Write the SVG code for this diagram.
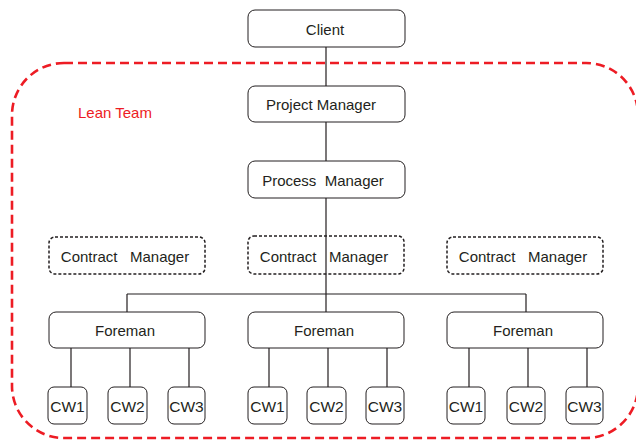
<svg xmlns="http://www.w3.org/2000/svg" width="636" height="441" viewBox="0 0 636 441">
  <style>
    .box { fill: #ffffff; stroke: #231f20; stroke-width: 1; }
    .dbox { fill: #ffffff; stroke: #231f20; stroke-width: 1.5; stroke-dasharray: 3 2; }
    .lbl { font-family: "Liberation Sans", Arial, sans-serif; font-size: 15px; fill: #231f20; text-anchor: middle; dominant-baseline: central; white-space: pre; }
    .cw { font-family: "Liberation Sans", Arial, sans-serif; font-size: 15.5px; fill: #231f20; text-anchor: middle; dominant-baseline: central; }
    .wire { stroke: #231f20; stroke-width: 1.2; fill: none; }
    .team { fill: none; stroke: #ed1c24; stroke-width: 2.6; stroke-dasharray: 9 5; }
  </style>

  <!-- team boundary -->
  <rect class="team" x="12" y="63" width="626" height="375" rx="52" ry="52"/>
  <text x="78" y="112" font-family="Liberation Sans, Arial, sans-serif" font-size="15" fill="#ed1c24" dominant-baseline="central">Lean Team</text>

  <g id="client"><rect class="box" x="248" y="10" width="157" height="37" rx="7"/><text class="lbl" x="325" y="29">Client</text></g>
  <g id="project-manager"><rect class="box" x="248" y="86" width="157" height="36" rx="7"/><text class="lbl" x="321" y="104">Project Manager</text></g>
  <g id="process-manager"><rect class="box" x="248" y="161" width="157" height="37" rx="7"/><text class="lbl" x="323" y="180">Process  Manager</text></g>

  <g id="contract-manager-1"><rect class="dbox" x="49" y="237" width="156" height="37" rx="6"/><text class="lbl" x="125" y="256">Contract   Manager</text></g>
  <g id="contract-manager-2"><rect class="dbox" x="248" y="236" width="156" height="38" rx="6"/><text class="lbl" x="324" y="256">Contract   Manager</text></g>
  <g id="contract-manager-3"><rect class="dbox" x="447" y="237" width="156" height="37" rx="6"/><text class="lbl" x="523" y="256">Contract   Manager</text></g>

  <g id="foreman-1"><rect class="box" x="49" y="312" width="156" height="36" rx="7"/><text class="lbl" x="125" y="330">Foreman</text></g>
  <g id="foreman-2"><rect class="box" x="248" y="312" width="156" height="36" rx="7"/><text class="lbl" x="324" y="330">Foreman</text></g>
  <g id="foreman-3"><rect class="box" x="447" y="312" width="156" height="36" rx="7"/><text class="lbl" x="523" y="330">Foreman</text></g>

  <g id="cw1-a"><rect class="box" x="48" y="387" width="39" height="37" rx="6"/><text class="cw" x="67.5" y="406">CW1</text></g>
  <g id="cw2-a"><rect class="box" x="108" y="387" width="39" height="37" rx="6"/><text class="cw" x="127.5" y="406">CW2</text></g>
  <g id="cw3-a"><rect class="box" x="168" y="387" width="37" height="37" rx="6"/><text class="cw" x="186.5" y="406">CW3</text></g>

  <g id="cw1-b"><rect class="box" x="248" y="387" width="39" height="37" rx="6"/><text class="cw" x="267.5" y="406">CW1</text></g>
  <g id="cw2-b"><rect class="box" x="307" y="387" width="39" height="37" rx="6"/><text class="cw" x="326.5" y="406">CW2</text></g>
  <g id="cw3-b"><rect class="box" x="366" y="387" width="38" height="37" rx="6"/><text class="cw" x="385" y="406">CW3</text></g>

  <g id="cw1-c"><rect class="box" x="447" y="387" width="38" height="37" rx="6"/><text class="cw" x="466" y="406">CW1</text></g>
  <g id="cw2-c"><rect class="box" x="507" y="387" width="38" height="37" rx="6"/><text class="cw" x="526" y="406">CW2</text></g>
  <g id="cw3-c"><rect class="box" x="566" y="387" width="37" height="37" rx="6"/><text class="cw" x="584.5" y="406">CW3</text></g>

  <!-- connectors drawn last: the trunk passes over the middle contract manager -->
  <g id="connectors">
    <path class="wire" d="M326 47V86M326 122V161M326 198V294M127 294H526M127 294V312M526 294V312M326 294V312"/>
    <path class="wire" d="M71 348V387M130 348V387M189 348V387M269 348V387M328 348V387M387 348V387M469 348V387M528 348V387M587 348V387"/>
  </g>
</svg>
